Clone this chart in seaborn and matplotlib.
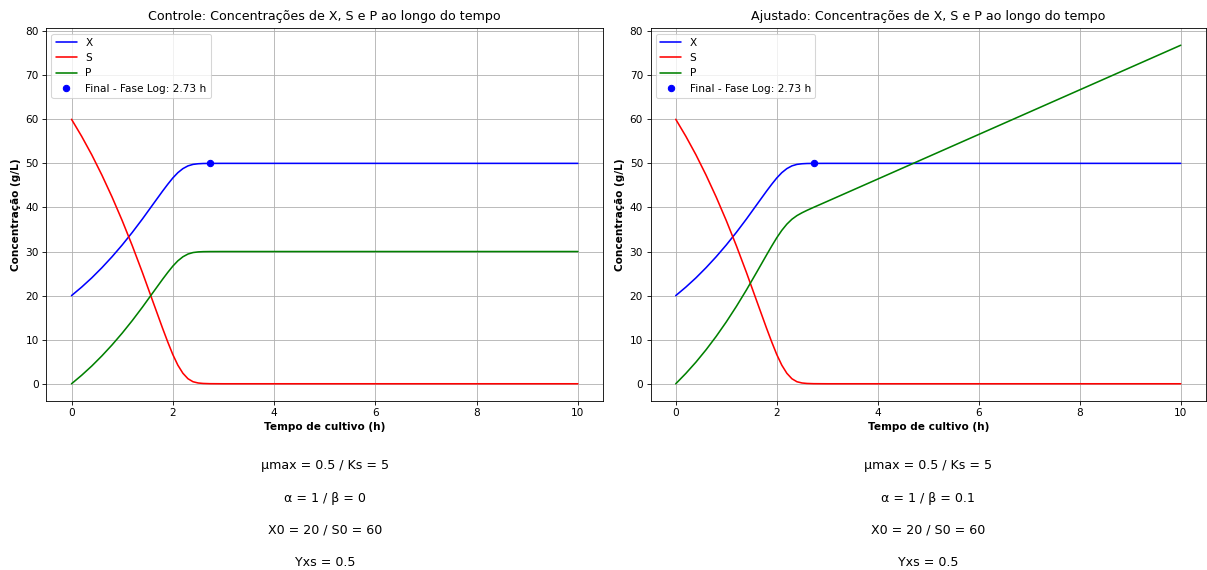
import matplotlib
matplotlib.use("Agg")
import matplotlib.pyplot as plt
import seaborn as sns
import pandas as pd

# ---- data ----
tempo = [0.0, 0.2, 0.4, 0.6, 0.8, 1.0, 1.2, 1.4, 1.6, 1.8, 1.9, 2.0, 2.1, 2.2, 2.3, 2.4, 2.5, 2.6, 2.73, 3.0, 10.0]
X_vals = [20.0, 21.93, 24.03, 26.33, 28.81, 31.48, 34.34, 37.38, 40.56, 43.73, 45.25, 46.68, 47.89, 48.81, 49.43, 49.77, 49.91, 49.97, 49.99, 50.0, 50.0]
S_vals = [60.0, 56.14, 51.94, 47.34, 42.38, 37.04, 31.32, 25.24, 18.88, 12.54, 9.50, 6.64, 4.22, 2.38, 1.14, 0.46, 0.18, 0.07, 0.02, 0.0, 0.0]
P_controle = [0.0, 1.93, 4.03, 6.33, 8.81, 11.48, 14.34, 17.38, 20.56, 23.73, 25.25, 26.68, 27.89, 28.81, 29.43, 29.77, 29.91, 29.97, 29.99, 30.0, 30.0]
P_ajustado = [0.0, 2.35, 4.91, 7.71, 10.74, 14.02, 17.54, 21.29, 25.25, 29.26, 31.23, 33.12, 34.80, 36.21, 37.32, 38.15, 38.79, 39.35, 40.02, 41.38, 76.8]
t_fim_log = 2.73
X_fim_log = 50.0

titulos = ["Controle: Concentrações de X, S e P ao longo do tempo",
           "Ajustado: Concentrações de X, S e P ao longo do tempo"]
parametros = [
    ["μmax = 0.5 / Ks = 5", "α = 1 / β = 0", "X0 = 20 / S0 = 60", "Yxs = 0.5"],
    ["μmax = 0.5 / Ks = 5", "α = 1 / β = 0.1", "X0 = 20 / S0 = 60", "Yxs = 0.5"],
]

sns.set_style("ticks")
plt.rcParams['font.family'] = ['DejaVu Sans']
plt.rcParams['axes.edgecolor'] = 'black'
plt.rcParams['xtick.color'] = 'black'
plt.rcParams['ytick.color'] = 'black'
plt.rcParams['axes.labelcolor'] = 'black'
plt.rcParams['text.color'] = 'black'

DPI = 76
W, H = 1207, 570
fig, axes = plt.subplots(1, 2, figsize=(W / DPI, H / DPI), dpi=DPI, sharey=True)
top_px, bot_px = 28.3, 400.7
axes[0].set_position([46.2 / W, 1 - bot_px / H, 557.0 / W, (bot_px - top_px) / H])
axes[1].set_position([650.5 / W, 1 - bot_px / H, 555.5 / W, (bot_px - top_px) / H])

for ax, P_vals, titulo, params in zip(axes, [P_controle, P_ajustado], titulos, parametros):
    df = pd.DataFrame({"t": tempo, "X": X_vals, "S": S_vals, "P": P_vals})
    sns.lineplot(data=df, x="t", y="X", ax=ax, color="blue", label="X", linewidth=1.5)
    sns.lineplot(data=df, x="t", y="S", ax=ax, color="red", label="S", linewidth=1.5)
    sns.lineplot(data=df, x="t", y="P", ax=ax, color="green", label="P", linewidth=1.5)
    ax.plot([t_fim_log], [X_fim_log], "o", color="blue", markersize=6,
            label=f"Final - Fase Log: {t_fim_log:.2f} h")
    ax.set_title(titulo, fontsize=12, pad=7.5)
    ax.set_xlabel("Tempo de cultivo (h)", fontweight="bold", fontsize=10)
    ax.set_ylabel("Concentração (g/L)", fontweight="bold", fontsize=10)
    ax.yaxis.label.set_visible(True)
    ax.grid(True, color="#b0b0b0", linewidth=0.8)
    ax.tick_params(labelleft=True, labelsize=10, length=3.5, width=0.8)
    for s in ax.spines.values():
        s.set_linewidth(0.8)
    ax.legend(loc="upper left", fontsize=10)
    for i, linha in enumerate(params):
        ax.text(0.5, -0.175 - 0.0865 * i, linha, transform=ax.transAxes,
                ha="center", va="center", fontsize=12)

fig.savefig("out.png", dpi=DPI)
